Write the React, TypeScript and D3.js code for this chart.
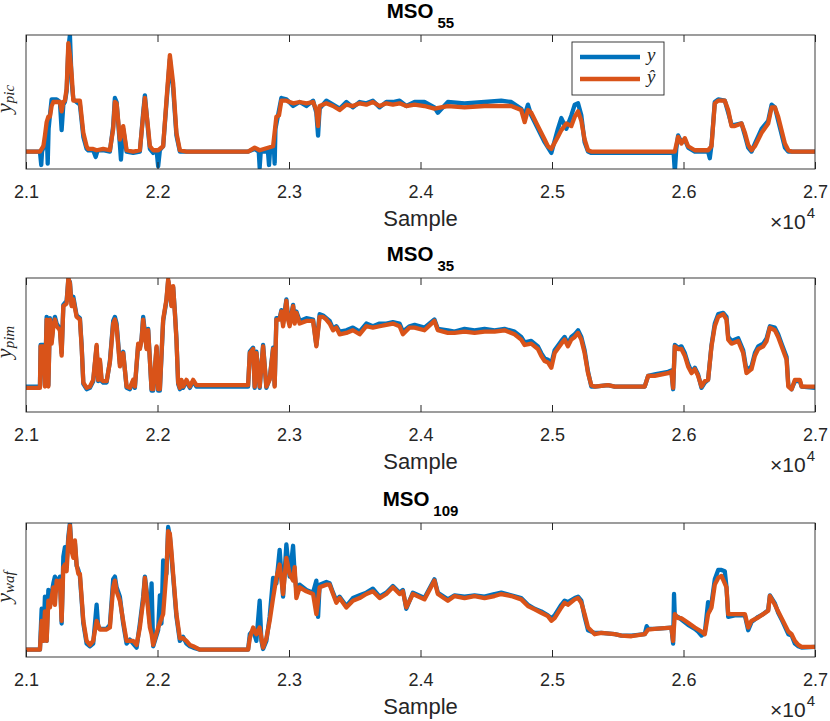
import React, { useEffect, useRef } from 'react';
import * as d3 from 'd3';

// x ticks (sample index) and their labels, shown with a x10^4 multiplier
const xTicks = [21000, 22000, 23000, 24000, 25000, 26000, 27000];
const xTickLabels = ['2.1', '2.2', '2.3', '2.4', '2.5', '2.6', '2.7'];

// subplot titles (MSO + subscript) and y label subscripts
const titleSubs = ['55', '35', '109'];
const ySubs = ['pic', 'pim', 'waf'];

// legend entries
const legendNames = ['y', 'ŷ'];

// MSO 55 : measured (y) and predicted (yhat), normalised, [sample, value]
const picY = [[21000,0.13],[21106,0.13],[21116,0.03],[21122,0.13],[21132,0.16],[21144,0.20],[21157,0.30],[21165,0.04],[21172,0.30],[21182,0.40],[21195,0.52],[21208,0.52],[21233,0.52],[21258,0.50],[21271,0.29],[21284,0.48],[21296,0.50],[21309,0.58],[21322,0.90],[21334,1.00],[21347,0.65],[21360,0.52],[21385,0.50],[21410,0.48],[21436,0.24],[21461,0.15],[21473,0.14],[21511,0.14],[21530,0.09],[21545,0.14],[21587,0.14],[21638,0.13],[21663,0.32],[21676,0.53],[21689,0.50],[21714,0.18],[21722,0.07],[21739,0.30],[21765,0.13],[21815,0.12],[21866,0.13],[21891,0.42],[21904,0.55],[21929,0.28],[21942,0.15],[21967,0.12],[21993,0.14],[22005,0.02],[22018,0.14],[22043,0.17],[22068,0.49],[22094,0.82],[22106,0.70],[22119,0.60],[22144,0.25],[22170,0.13],[22220,0.13],[22689,0.13],[22739,0.15],[22770,0.13],[22777,0.01],[22785,0.13],[22840,0.13],[22848,0.03],[22856,0.14],[22885,0.16],[22891,0.04],[22897,0.30],[22924,0.44],[22942,0.53],[22980,0.52],[23031,0.47],[23081,0.50],[23132,0.47],[23183,0.51],[23208,0.42],[23221,0.25],[23233,0.45],[23284,0.51],[23335,0.48],[23385,0.45],[23436,0.50],[23486,0.46],[23537,0.50],[23588,0.49],[23638,0.51],[23689,0.46],[23740,0.50],[23790,0.50],[23841,0.51],[23892,0.47],[23955,0.50],[24030,0.50],[24106,0.46],[24132,0.42],[24208,0.50],[24335,0.49],[24487,0.50],[24614,0.51],[24690,0.50],[24766,0.45],[24792,0.40],[24817,0.48],[24842,0.40],[24893,0.30],[24944,0.20],[24995,0.12],[25045,0.30],[25071,0.38],[25109,0.30],[25147,0.40],[25173,0.48],[25198,0.49],[25223,0.40],[25248,0.20],[25274,0.13],[25299,0.12],[25925,0.12],[25934,-0.02],[25945,0.15],[25959,0.25],[25984,0.20],[26010,0.22],[26035,0.16],[26086,0.13],[26187,0.13],[26200,0.08],[26213,0.18],[26238,0.50],[26264,0.52],[26314,0.51],[26340,0.42],[26365,0.33],[26390,0.33],[26441,0.34],[26467,0.25],[26492,0.16],[26517,0.13],[26543,0.19],[26594,0.30],[26644,0.36],[26670,0.48],[26695,0.46],[26720,0.36],[26771,0.16],[26797,0.13],[26822,0.13],[27000,0.13]];
const picYhat = [[21000,0.13],[21106,0.13],[21119,0.15],[21132,0.17],[21144,0.25],[21157,0.35],[21170,0.39],[21182,0.39],[21195,0.47],[21208,0.50],[21233,0.50],[21258,0.50],[21271,0.43],[21284,0.50],[21296,0.51],[21309,0.60],[21322,0.94],[21334,0.85],[21347,0.71],[21360,0.51],[21385,0.51],[21410,0.51],[21436,0.27],[21461,0.17],[21473,0.15],[21511,0.15],[21537,0.14],[21587,0.15],[21638,0.14],[21663,0.30],[21676,0.50],[21689,0.49],[21714,0.22],[21739,0.32],[21765,0.14],[21815,0.13],[21866,0.14],[21891,0.40],[21904,0.53],[21929,0.30],[21942,0.17],[21967,0.14],[22005,0.14],[22043,0.17],[22068,0.51],[22094,0.85],[22106,0.75],[22119,0.64],[22144,0.27],[22170,0.14],[22220,0.13],[22689,0.13],[22739,0.16],[22777,0.14],[22879,0.17],[22904,0.39],[22924,0.40],[22942,0.51],[22980,0.51],[23031,0.49],[23081,0.50],[23132,0.49],[23183,0.50],[23208,0.44],[23221,0.32],[23233,0.47],[23284,0.49],[23335,0.47],[23385,0.44],[23436,0.48],[23486,0.47],[23537,0.49],[23588,0.48],[23638,0.50],[23689,0.47],[23740,0.49],[23790,0.48],[23841,0.49],[23892,0.47],[23955,0.48],[24030,0.47],[24106,0.45],[24208,0.47],[24335,0.46],[24487,0.47],[24614,0.47],[24690,0.47],[24766,0.44],[24792,0.35],[24817,0.44],[24842,0.42],[24893,0.32],[24944,0.22],[24969,0.17],[24995,0.15],[25045,0.24],[25071,0.29],[25109,0.34],[25147,0.32],[25173,0.39],[25198,0.43],[25223,0.36],[25248,0.22],[25274,0.14],[25299,0.13],[25934,0.13],[25959,0.24],[25984,0.19],[26010,0.23],[26035,0.17],[26086,0.14],[26187,0.14],[26213,0.17],[26238,0.49],[26264,0.51],[26314,0.51],[26340,0.44],[26365,0.32],[26390,0.32],[26441,0.34],[26467,0.27],[26492,0.18],[26517,0.14],[26543,0.17],[26594,0.27],[26644,0.34],[26670,0.46],[26695,0.46],[26720,0.39],[26771,0.19],[26797,0.14],[26822,0.13],[27000,0.13]];

// MSO 35
const pimY = [[21000,0.19],[21106,0.19],[21111,0.50],[21132,0.50],[21144,0.20],[21157,0.71],[21170,0.20],[21182,0.70],[21195,0.53],[21208,0.66],[21220,0.71],[21233,0.66],[21258,0.62],[21271,0.44],[21284,0.80],[21309,0.83],[21322,0.99],[21334,0.97],[21347,0.80],[21360,0.86],[21385,0.72],[21410,0.70],[21423,0.50],[21436,0.21],[21461,0.17],[21486,0.18],[21511,0.23],[21537,0.49],[21549,0.23],[21562,0.38],[21575,0.23],[21587,0.22],[21613,0.22],[21638,0.38],[21663,0.68],[21676,0.71],[21689,0.66],[21714,0.36],[21739,0.45],[21765,0.18],[21790,0.17],[21815,0.23],[21828,0.18],[21853,0.50],[21866,0.48],[21879,0.55],[21891,0.71],[21917,0.48],[21929,0.62],[21955,0.16],[21967,0.16],[21993,0.48],[22005,0.16],[22018,0.16],[22043,0.68],[22068,0.83],[22081,0.98],[22094,0.92],[22106,0.80],[22119,0.93],[22132,0.75],[22144,0.55],[22157,0.21],[22170,0.17],[22182,0.23],[22195,0.18],[22220,0.23],[22246,0.18],[22271,0.23],[22296,0.19],[22689,0.19],[22702,0.45],[22727,0.48],[22739,0.18],[22752,0.45],[22777,0.18],[22803,0.50],[22828,0.18],[22853,0.25],[22879,0.48],[22891,0.20],[22904,0.70],[22929,0.70],[22942,0.76],[22955,0.66],[22980,0.84],[22993,0.70],[23005,0.66],[23031,0.80],[23043,0.68],[23056,0.75],[23081,0.68],[23132,0.70],[23183,0.69],[23208,0.50],[23233,0.73],[23259,0.72],[23284,0.70],[23309,0.68],[23335,0.62],[23360,0.64],[23385,0.60],[23436,0.61],[23486,0.63],[23537,0.60],[23588,0.66],[23638,0.64],[23689,0.66],[23740,0.66],[23790,0.67],[23841,0.66],[23866,0.60],[23917,0.64],[23955,0.65],[24030,0.63],[24106,0.69],[24132,0.62],[24208,0.61],[24259,0.60],[24335,0.62],[24411,0.61],[24487,0.62],[24563,0.61],[24639,0.62],[24715,0.60],[24766,0.56],[24792,0.52],[24842,0.53],[24893,0.49],[24918,0.44],[24944,0.40],[24969,0.39],[24995,0.36],[25020,0.46],[25071,0.53],[25096,0.56],[25121,0.51],[25147,0.56],[25173,0.58],[25198,0.61],[25223,0.56],[25248,0.46],[25274,0.30],[25299,0.19],[25325,0.19],[25426,0.20],[25477,0.19],[25528,0.19],[25604,0.19],[25705,0.19],[25731,0.27],[25781,0.28],[25883,0.30],[25908,0.31],[25921,0.17],[25934,0.50],[25959,0.48],[25984,0.49],[26010,0.44],[26035,0.36],[26061,0.30],[26086,0.33],[26111,0.28],[26137,0.18],[26162,0.22],[26187,0.24],[26213,0.50],[26238,0.66],[26264,0.73],[26302,0.74],[26327,0.71],[26340,0.56],[26365,0.53],[26416,0.55],[26454,0.46],[26479,0.31],[26517,0.34],[26543,0.44],[26568,0.49],[26606,0.51],[26632,0.55],[26657,0.64],[26695,0.63],[26720,0.58],[26746,0.51],[26784,0.41],[26797,0.20],[26822,0.17],[26847,0.23],[26885,0.23],[26898,0.19],[27000,0.18]];
const pimYhat = [[21000,0.18],[21106,0.18],[21111,0.49],[21132,0.49],[21144,0.19],[21157,0.69],[21170,0.19],[21182,0.69],[21195,0.51],[21208,0.64],[21220,0.69],[21233,0.64],[21258,0.61],[21271,0.42],[21284,0.79],[21309,0.81],[21322,1.00],[21334,0.96],[21347,0.79],[21360,0.84],[21385,0.71],[21410,0.69],[21423,0.49],[21436,0.22],[21461,0.18],[21486,0.19],[21511,0.24],[21537,0.50],[21549,0.24],[21562,0.39],[21575,0.24],[21587,0.23],[21613,0.23],[21638,0.37],[21663,0.66],[21676,0.69],[21689,0.64],[21714,0.34],[21739,0.44],[21765,0.19],[21790,0.18],[21815,0.24],[21828,0.19],[21853,0.51],[21866,0.47],[21879,0.54],[21891,0.69],[21917,0.47],[21929,0.61],[21955,0.17],[21967,0.17],[21993,0.49],[22005,0.17],[22018,0.17],[22043,0.69],[22068,0.84],[22081,0.99],[22094,0.91],[22106,0.79],[22119,0.94],[22132,0.74],[22144,0.54],[22157,0.22],[22170,0.18],[22182,0.24],[22195,0.19],[22220,0.24],[22246,0.19],[22271,0.24],[22296,0.20],[22689,0.20],[22702,0.44],[22727,0.47],[22739,0.19],[22752,0.44],[22777,0.19],[22803,0.49],[22828,0.19],[22853,0.24],[22879,0.47],[22891,0.19],[22904,0.69],[22929,0.69],[22942,0.75],[22955,0.64],[22980,0.83],[22993,0.69],[23005,0.64],[23031,0.79],[23043,0.66],[23056,0.74],[23081,0.66],[23132,0.68],[23183,0.68],[23208,0.49],[23233,0.71],[23259,0.71],[23284,0.69],[23309,0.66],[23335,0.61],[23360,0.63],[23385,0.58],[23436,0.59],[23486,0.61],[23537,0.58],[23588,0.64],[23638,0.63],[23689,0.64],[23740,0.65],[23790,0.66],[23841,0.64],[23866,0.58],[23917,0.63],[23955,0.63],[24030,0.61],[24106,0.68],[24132,0.61],[24208,0.59],[24259,0.59],[24335,0.60],[24411,0.59],[24487,0.60],[24563,0.60],[24639,0.61],[24715,0.58],[24766,0.54],[24792,0.50],[24842,0.51],[24893,0.47],[24918,0.42],[24944,0.38],[24969,0.37],[24995,0.33],[25020,0.44],[25071,0.51],[25096,0.54],[25121,0.49],[25147,0.54],[25173,0.56],[25198,0.59],[25223,0.54],[25248,0.44],[25274,0.29],[25299,0.20],[25325,0.19],[25426,0.20],[25477,0.19],[25528,0.19],[25604,0.19],[25705,0.19],[25731,0.27],[25781,0.27],[25883,0.29],[25908,0.30],[25921,0.18],[25934,0.49],[25959,0.47],[25984,0.47],[26010,0.42],[26035,0.34],[26061,0.29],[26086,0.32],[26111,0.27],[26137,0.19],[26162,0.23],[26187,0.24],[26213,0.49],[26238,0.64],[26264,0.71],[26302,0.73],[26327,0.69],[26340,0.54],[26365,0.51],[26416,0.53],[26454,0.44],[26479,0.29],[26517,0.32],[26543,0.42],[26568,0.47],[26606,0.49],[26632,0.53],[26657,0.63],[26695,0.61],[26720,0.56],[26746,0.49],[26784,0.39],[26797,0.19],[26822,0.17],[26847,0.24],[26885,0.24],[26898,0.19],[27000,0.19]];

// MSO 109
const wafY = [[21000,0.055],[21106,0.055],[21119,0.36],[21132,0.12],[21144,0.45],[21157,0.12],[21170,0.50],[21182,0.40],[21208,0.55],[21220,0.60],[21233,0.57],[21246,0.55],[21258,0.60],[21271,0.25],[21284,0.75],[21296,0.82],[21309,0.70],[21322,0.90],[21334,1.00],[21347,0.80],[21360,0.78],[21372,0.85],[21385,0.68],[21398,0.65],[21410,0.60],[21436,0.25],[21461,0.10],[21486,0.08],[21511,0.10],[21537,0.39],[21549,0.22],[21562,0.21],[21613,0.21],[21638,0.24],[21663,0.58],[21676,0.60],[21689,0.52],[21714,0.45],[21739,0.25],[21765,0.10],[21790,0.13],[21815,0.10],[21841,0.07],[21866,0.25],[21891,0.45],[21904,0.60],[21917,0.50],[21942,0.25],[21955,0.55],[21967,0.08],[22005,0.20],[22018,0.46],[22030,0.25],[22043,0.72],[22068,0.62],[22081,0.97],[22094,0.90],[22106,0.75],[22119,0.60],[22144,0.30],[22170,0.12],[22195,0.15],[22220,0.10],[22246,0.08],[22271,0.07],[22322,0.055],[22689,0.055],[22702,0.17],[22727,0.20],[22752,0.12],[22777,0.42],[22790,0.12],[22803,0.06],[22828,0.12],[22853,0.30],[22879,0.59],[22904,0.55],[22929,0.80],[22955,0.45],[22980,0.84],[23005,0.60],[23031,0.83],[23043,0.62],[23056,0.50],[23081,0.54],[23132,0.50],[23183,0.48],[23208,0.57],[23221,0.30],[23233,0.54],[23284,0.56],[23309,0.55],[23335,0.48],[23360,0.42],[23385,0.45],[23436,0.38],[23486,0.44],[23537,0.46],[23588,0.48],[23638,0.51],[23689,0.45],[23740,0.48],[23790,0.53],[23841,0.48],[23866,0.50],[23892,0.36],[23942,0.48],[24030,0.44],[24106,0.58],[24132,0.48],[24208,0.43],[24259,0.46],[24335,0.45],[24411,0.46],[24487,0.45],[24563,0.47],[24614,0.48],[24690,0.46],[24766,0.44],[24817,0.39],[24868,0.36],[24918,0.34],[24969,0.31],[24995,0.29],[25020,0.31],[25071,0.39],[25096,0.42],[25121,0.41],[25173,0.44],[25198,0.45],[25223,0.42],[25248,0.30],[25274,0.20],[25325,0.18],[25375,0.18],[25477,0.17],[25528,0.16],[25604,0.16],[25705,0.17],[25720,0.23],[25731,0.21],[25781,0.21],[25908,0.22],[25921,0.10],[25928,0.47],[25934,0.30],[25959,0.30],[25984,0.28],[26035,0.24],[26086,0.21],[26111,0.19],[26137,0.16],[26162,0.18],[26187,0.41],[26200,0.35],[26213,0.40],[26238,0.58],[26264,0.65],[26289,0.65],[26314,0.64],[26327,0.52],[26340,0.30],[26390,0.31],[26467,0.31],[26492,0.20],[26517,0.26],[26568,0.30],[26606,0.32],[26644,0.35],[26657,0.46],[26695,0.40],[26720,0.33],[26746,0.28],[26797,0.17],[26822,0.16],[26847,0.10],[26873,0.08],[26898,0.07],[27000,0.075]];
const wafYhat = [[21000,0.055],[21106,0.055],[21119,0.27],[21132,0.12],[21144,0.34],[21157,0.12],[21170,0.42],[21182,0.37],[21208,0.52],[21220,0.39],[21233,0.57],[21246,0.52],[21258,0.57],[21271,0.27],[21284,0.67],[21296,0.69],[21309,0.64],[21322,0.87],[21334,0.98],[21347,0.79],[21360,0.74],[21372,0.87],[21385,0.69],[21398,0.62],[21410,0.62],[21436,0.27],[21461,0.12],[21486,0.09],[21511,0.12],[21537,0.27],[21562,0.205],[21613,0.205],[21638,0.22],[21663,0.52],[21676,0.57],[21689,0.49],[21714,0.42],[21739,0.27],[21765,0.12],[21790,0.12],[21815,0.12],[21841,0.09],[21866,0.22],[21891,0.42],[21904,0.59],[21917,0.47],[21942,0.22],[21955,0.17],[21967,0.09],[22005,0.22],[22043,0.32],[22068,0.64],[22081,0.94],[22094,0.92],[22106,0.79],[22119,0.62],[22144,0.32],[22170,0.14],[22195,0.14],[22220,0.12],[22246,0.09],[22271,0.08],[22322,0.055],[22689,0.055],[22702,0.14],[22727,0.22],[22752,0.17],[22777,0.22],[22803,0.07],[22828,0.14],[22853,0.27],[22879,0.44],[22904,0.59],[22929,0.69],[22955,0.47],[22980,0.74],[23005,0.62],[23031,0.57],[23043,0.67],[23056,0.44],[23081,0.52],[23132,0.49],[23183,0.47],[23208,0.32],[23233,0.52],[23284,0.54],[23309,0.54],[23335,0.47],[23360,0.405],[23385,0.44],[23436,0.37],[23486,0.42],[23537,0.44],[23588,0.47],[23638,0.49],[23689,0.44],[23740,0.47],[23790,0.52],[23841,0.47],[23866,0.49],[23892,0.37],[23942,0.47],[24030,0.43],[24106,0.57],[24132,0.47],[24208,0.42],[24259,0.455],[24335,0.44],[24411,0.455],[24487,0.44],[24563,0.455],[24614,0.47],[24690,0.455],[24766,0.43],[24817,0.38],[24868,0.355],[24918,0.33],[24969,0.305],[24995,0.27],[25020,0.29],[25071,0.37],[25096,0.405],[25121,0.39],[25173,0.43],[25198,0.44],[25223,0.405],[25248,0.32],[25274,0.22],[25325,0.17],[25375,0.18],[25477,0.17],[25528,0.16],[25604,0.155],[25705,0.17],[25731,0.205],[25781,0.21],[25908,0.22],[25921,0.12],[25934,0.32],[25959,0.29],[25984,0.29],[26035,0.255],[26086,0.22],[26111,0.205],[26137,0.19],[26162,0.17],[26187,0.32],[26213,0.37],[26238,0.54],[26264,0.59],[26289,0.605],[26327,0.52],[26340,0.32],[26390,0.32],[26467,0.32],[26492,0.22],[26517,0.27],[26568,0.295],[26606,0.32],[26644,0.345],[26657,0.455],[26695,0.39],[26720,0.34],[26746,0.29],[26797,0.19],[26822,0.17],[26847,0.12],[26873,0.09],[26898,0.075],[27000,0.075]];

const App = () => {
  const ref = useRef(null);

  useEffect(() => {
    const svg = d3.select(ref.current);
    svg.selectAll('*').remove();

    // layout of the three stacked axes
    const left = 26, right = 815, plotH = 134;
    const tops = [35, 278, 523];
    const blue = '#0072BD', orange = '#D95319', ink = '#262626';
    const sans = '"Liberation Sans", Arial, sans-serif';
    const serif = '"Liberation Serif", "Times New Roman", serif';
    const lw = 4.3;

    const series = [[picY, picYhat], [pimY, pimYhat], [wafY, wafYhat]];

    const x = d3.scaleLinear().domain([21000, 27000]).range([left, right]);

    tops.forEach((top, i) => {
      const y = d3.scaleLinear().domain([0, 1]).range([top + plotH, top]);
      const g = svg.append('g');

      // clip region so the lines stay inside the box
      g.append('clipPath').attr('id', `clip${i}`)
        .append('rect')
        .attr('x', left).attr('y', top)
        .attr('width', right - left).attr('height', plotH);

      const line = d3.line()
        .x(d => x(d[0]))
        .y(d => y(d[1]));

      const [ys, yhat] = series[i];
      [[ys, blue], [yhat, orange]].forEach(([data, color]) => {
        g.append('path')
          .datum(data)
          .attr('clip-path', `url(#clip${i})`)
          .attr('d', line)
          .attr('fill', 'none')
          .attr('stroke', color)
          .attr('stroke-width', lw)
          .attr('stroke-linejoin', 'round');
      });

      // bottom axis, ticks pointing inward
      const bottom = g.append('g')
        .attr('transform', `translate(0, ${top + plotH})`)
        .call(d3.axisBottom(x).tickValues(xTicks).tickSize(-7).tickPadding(16)
          .tickFormat((d, k) => xTickLabels[k]));
      bottom.select('.domain').remove();
      bottom.selectAll('line').attr('stroke', ink);
      bottom.selectAll('text')
        .attr('fill', ink)
        .attr('font-family', sans)
        .attr('font-size', 18);

      // top axis, ticks only
      const topAxis = g.append('g')
        .attr('transform', `translate(0, ${top})`)
        .call(d3.axisTop(x).tickValues(xTicks).tickSize(-7).tickFormat(() => ''));
      topAxis.select('.domain').remove();
      topAxis.selectAll('line').attr('stroke', ink);

      // axes box
      g.append('rect')
        .attr('x', left).attr('y', top)
        .attr('width', right - left).attr('height', plotH)
        .attr('fill', 'none')
        .attr('stroke', ink)
        .attr('stroke-width', 0.9);

      // title MSO_xx
      const title = g.append('text')
        .attr('x', (left + right) / 2)
        .attr('y', top - 17.5)
        .attr('text-anchor', 'middle')
        .attr('font-family', sans)
        .attr('font-weight', 'bold')
        .attr('fill', '#000');
      title.append('tspan').attr('font-size', 20.5).text('MSO');
      title.append('tspan').attr('font-size', 15).attr('dx', 4).attr('dy', 10).text(titleSubs[i]);

      // x label and multiplier
      g.append('text')
        .attr('x', (left + right) / 2)
        .attr('y', top + plotH + 57)
        .attr('text-anchor', 'middle')
        .attr('font-family', sans)
        .attr('font-size', 22)
        .attr('fill', ink)
        .text('Sample');

      const mult = g.append('text')
        .attr('x', right)
        .attr('y', top + plotH + 60)
        .attr('text-anchor', 'end')
        .attr('font-family', sans)
        .attr('fill', ink);
      mult.append('tspan').attr('font-size', 21).text('×10');
      mult.append('tspan').attr('font-size', 15).attr('dx', 1).attr('dy', -11).text('4');

      // y label, italic math style
      const ylab = g.append('text')
        .attr('transform', `translate(11, ${top + plotH / 2 - 3}) rotate(-90)`)
        .attr('text-anchor', 'middle')
        .attr('font-family', serif)
        .attr('font-style', 'italic')
        .attr('fill', ink);
      ylab.append('tspan').attr('font-size', 22).text('y');
      ylab.append('tspan').attr('font-size', 15).attr('dy', 3).text(ySubs[i]);

      // legend only on the first panel
      if (i === 0) {
        const lg = g.append('g');
        lg.append('rect')
          .attr('x', 572).attr('y', 42)
          .attr('width', 92).attr('height', 53)
          .attr('fill', '#fff')
          .attr('stroke', ink)
          .attr('stroke-width', 0.9);
        [blue, orange].forEach((color, k) => {
          const ly = 57 + k * 22;
          lg.append('line')
            .attr('x1', 580).attr('x2', 640)
            .attr('y1', ly).attr('y2', ly)
            .attr('stroke', color)
            .attr('stroke-width', lw);
          lg.append('text')
            .attr('x', 647).attr('y', ly + 4)
            .attr('font-family', serif)
            .attr('font-style', 'italic')
            .attr('font-size', 19)
            .attr('fill', ink)
            .text(legendNames[k]);
        });
      }
    });
  }, []);

  return (
    <svg ref={ref} width={830} height={721} style={{ position: 'absolute', left: 0, top: 0, background: '#fff' }}></svg>
  );
};

export default App;
